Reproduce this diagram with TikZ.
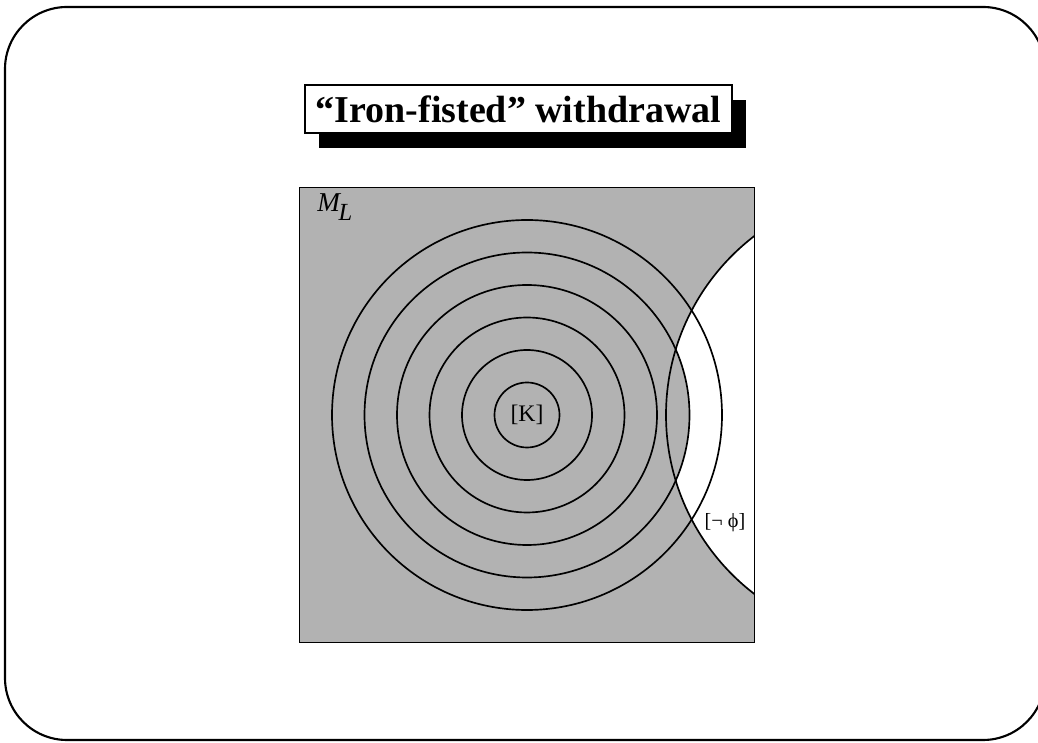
\documentclass[tikz,border=0pt]{standalone}
\usepackage{fontspec}
\setmainfont{Liberation Serif}
\usetikzlibrary{shadows}
\definecolor{Shade}{gray}{0.7}

\begin{document}
\begin{tikzpicture}[
    frame/.style={draw=black,line width=1.2pt,rounded corners=1.24cm},
    titlebox/.style={draw=black,line width=1pt,fill=white,minimum width=8.54cm,minimum height=0.96cm,inner sep=0pt,
      font=\bfseries\fontsize{21.6}{24}\selectfont,
      drop shadow={shadow xshift=0.28cm,shadow yshift=-0.3cm,fill=black,opacity=1}},
    sphere/.style={draw=black,line width=0.95pt},
    lbl/.style={inner sep=0pt,font=\fontsize{13.5}{15}\selectfont}]
  \useasboundingbox (0,0) rectangle (20.76,14.84);
  \draw[frame] (0.1,0.04) rectangle (20.9,14.7);
  \node[titlebox] (title) at (10.37,12.66) {“Iron-fisted” withdrawal};
  % models of the language, spheres round [K]
  \coordinate (k) at (10.54,6.54);
  \coordinate (nphi) at (17.83,6.54);
  \node[fill=Shade,minimum size=9.08cm,inner sep=0pt] (ml) at (k) {};
  \begin{scope}
    \clip (ml.south west) rectangle (ml.north east);
    \clip (nphi) circle (4.51);
    \fill[white,even odd rule] (ml.south west) rectangle (ml.north east) (k) circle (3.25);
  \end{scope}
  \foreach \r in {1,...,6}
    \draw[sphere] (k) circle[radius=0.65*\r];
  \begin{scope}
    \clip (ml.south west) rectangle (ml.north east);
    \draw[sphere] (nphi) circle (4.51);
  \end{scope}
  \draw[sphere] (ml.south west) rectangle (ml.north east);
  \node[lbl] (klbl) at (k) {[K]};
  \node[lbl,anchor=base west,font=\fontsize{15.5}{17}\selectfont] (mllbl) at (6.34,10.6) {\textit{M}\kern-1.5pt\raisebox{-5pt}{\fontsize{14}{16}\selectfont\textit{L}}};
  \node[lbl,font=\fontsize{11.5}{13}\selectfont] (nphilbl) at (14.5,4.38) {[¬ ϕ]};
\end{tikzpicture}
\end{document}
